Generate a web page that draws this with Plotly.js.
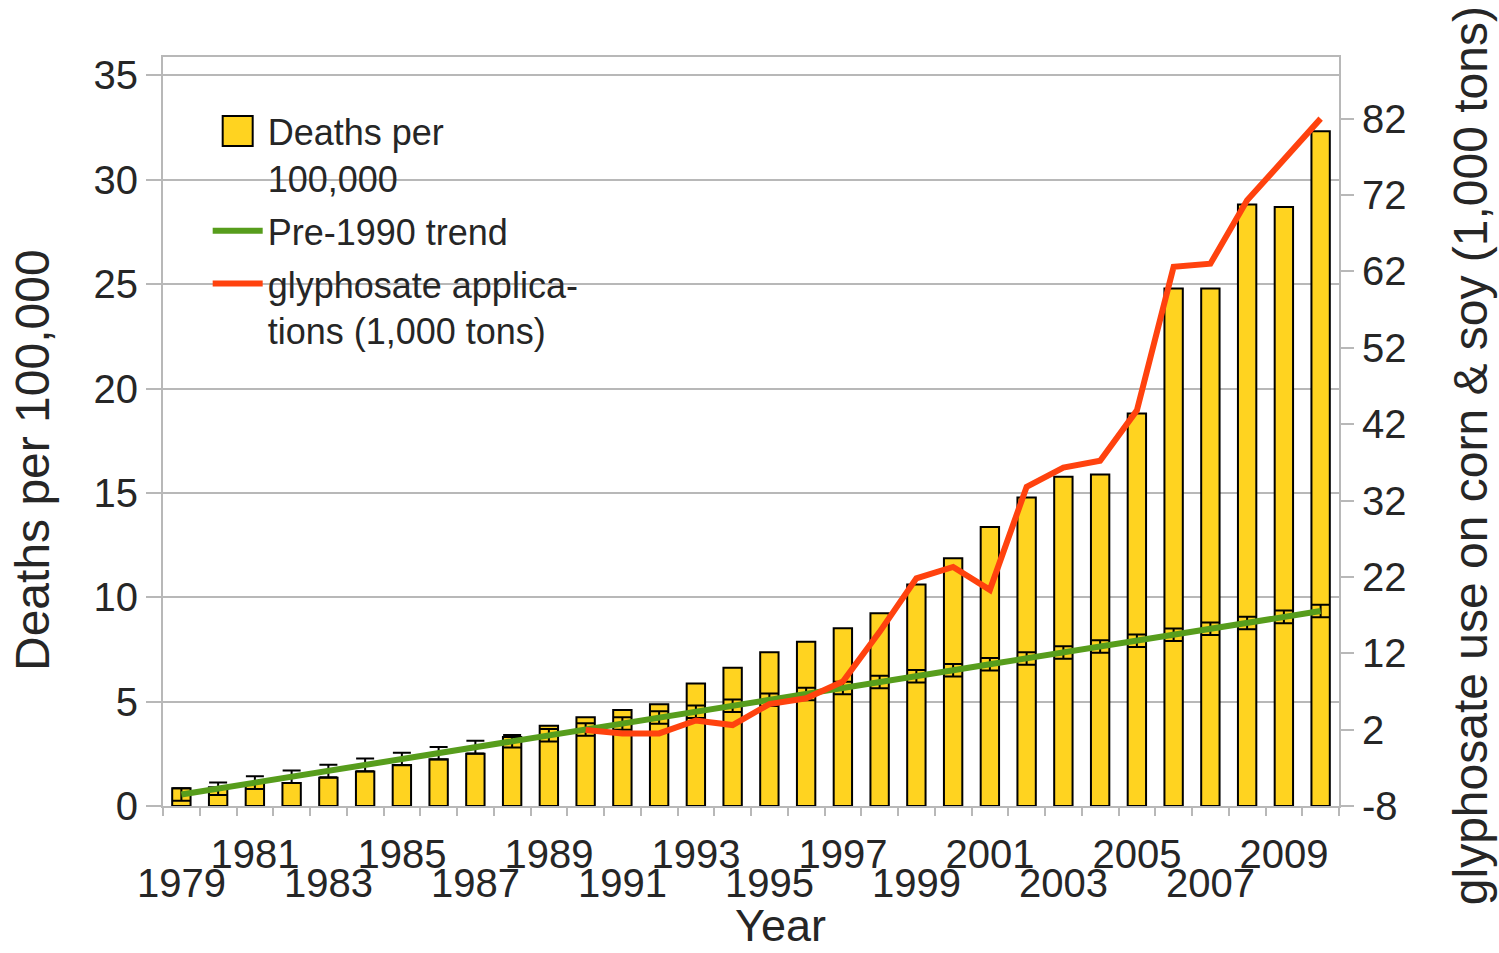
<!DOCTYPE html>
<html>
<head>
<meta charset="utf-8">
<script src="https://cdn.plot.ly/plotly-3.0.1.min.js"></script>
<style>
  html, body { margin: 0; padding: 0; background: #ffffff; }
  #chart { width: 1499px; height: 953px; }
</style>
</head>
<body>
<div id="chart"></div>
<script>
// ---- data ----
const years = [1979, 1980, 1981, 1982, 1983, 1984, 1985, 1986, 1987, 1988,
               1989, 1990, 1991, 1992, 1993, 1994, 1995, 1996, 1997, 1998,
               1999, 2000, 2001, 2002, 2003, 2004, 2005, 2006, 2007, 2008,
               2009, 2010];

const deaths = [0.85, 0.9, 1.1, 1.1, 1.35, 1.65, 1.97, 2.24, 2.5, 3.3,
                3.85, 4.25, 4.60, 4.87, 5.87, 6.62, 7.36, 7.87, 8.51, 9.23,
                10.61, 11.87, 13.37, 14.78, 15.77, 15.88, 18.80, 24.79, 24.79, 28.82,
                28.69, 32.32];

const trend = [0.55, 0.83, 1.12, 1.40, 1.68, 1.97, 2.25, 2.53, 2.82, 3.10,
               3.39, 3.67, 3.95, 4.24, 4.52, 4.80, 5.09, 5.37, 5.65, 5.94,
               6.22, 6.50, 6.79, 7.07, 7.35, 7.64, 7.92, 8.20, 8.49, 8.77,
               9.06, 9.34];

const glyYears = [1990, 1991, 1992, 1993, 1994, 1995, 1996, 1997, 1998, 1999,
                  2000, 2001, 2002, 2003, 2004, 2005, 2006, 2007, 2008, 2009,
                  2010];
const glyphosate = [1.95, 1.5, 1.5, 3.2, 2.6, 5.35, 6.1, 8.3, 14.8, 21.8,
                    23.3, 20.3, 33.8, 36.3, 37.2, 43.8, 62.6, 63.0, 71.3, 76.6,
                    82.0];

// year labels: upper row and lower row (staggered)
const xTicksUpper = [1981, 1985, 1989, 1993, 1997, 2001, 2005, 2009];
const xTicksLower = [1979, 1983, 1987, 1991, 1995, 1999, 2003, 2007];

const leftTicks = [0, 5, 10, 15, 20, 25, 30, 35];
const rightTicks = [-8, 2, 12, 22, 32, 42, 52, 62, 72, 82];
const rightTickText = ['-8', '2', '12', '22', '32', '42', '52', '62', '72', '82'];

const titleX = 'Year';
const titleY = 'Deaths per 100,000';
const titleY2 = 'glyphosate use on corn &amp; soy (1,000 tons)';

// ---- styling ----
const FONT = 'Liberation Sans, Arial, sans-serif';
const TXT = '#262626';
const GRID = '#b8b8b8';

const traces = [
  {
    type: 'bar',
    name: 'Deaths per<br>100,000',
    legendgroup: 'a',
    x: years,
    y: deaths,
    width: 0.5,
    marker: { color: '#ffd320', line: { color: '#000000', width: 2 } },
    hoverinfo: 'x+y'
  },
  {
    type: 'scatter',
    mode: 'lines',
    name: 'Pre-1990 trend',
    legendgroup: 'b',
    x: years,
    y: trend,
    line: { color: '#579d1c', width: 6 },
    error_y: { type: 'constant', value: 0.3, color: '#000000', thickness: 2, width: 9 }
  },
  {
    type: 'scatter',
    mode: 'lines',
    name: 'glyphosate applica-<br>tions (1,000 tons)',
    legendgroup: 'c',
    x: glyYears,
    y: glyphosate,
    xaxis: 'x2',
    yaxis: 'y2',
    line: { color: '#ff420e', width: 6 }
  }
];

const layout = {
  width: 1499,
  height: 953,
  margin: { l: 163, r: 160, t: 57, b: 147, pad: 0 },
  paper_bgcolor: '#ffffff',
  plot_bgcolor: '#ffffff',
  font: { family: FONT, color: TXT, size: 40 },
  showlegend: true,
  legend: {
    x: 0.038, y: 0.941, xanchor: 'left', yanchor: 'top',
    bgcolor: 'rgba(255,255,255,0)',
    font: { family: FONT, size: 36, color: TXT },
    valign: 'top',
    itemwidth: 50,
    tracegroupgap: 3
  },
  xaxis: {
    range: [1978.5, 2010.5],
    tickmode: 'array',
    tickvals: xTicksUpper,
    tickangle: 0,
    ticks: '',
    ticklabelstandoff: 12,
    tickfont: { family: FONT, size: 40, color: TXT },
    showgrid: false,
    zeroline: false,
    showline: true,
    linecolor: GRID,
    linewidth: 2,
    mirror: true,
    minor: { tickmode: 'linear', tick0: 1978.5, dtick: 1, ticks: 'outside', ticklen: 8, tickwidth: 2, tickcolor: GRID, showgrid: false },
    fixedrange: true
  },
  xaxis2: {
    overlaying: 'x',
    anchor: 'y2',
    side: 'bottom',
    range: [1978.5, 2010.5],
    tickmode: 'array',
    tickvals: xTicksLower,
    tickangle: 0,
    ticks: '',
    ticklabelstandoff: 50,
    tickfont: { family: FONT, size: 40, color: TXT },
    showgrid: false,
    zeroline: false,
    showline: false,
    fixedrange: true
  },
  yaxis: {
    range: [0, 35.88],
    tickmode: 'array',
    tickvals: leftTicks,
    ticks: 'outside',
    ticklen: 15,
    tickwidth: 2,
    tickcolor: GRID,
    tickfont: { family: FONT, size: 40, color: TXT },
    showgrid: true,
    gridcolor: GRID,
    gridwidth: 2,
    zeroline: false,
    showline: true,
    linecolor: GRID,
    linewidth: 2,
    fixedrange: true
  },
  yaxis2: {
    overlaying: 'y',
    anchor: 'x2',
    side: 'right',
    range: [-8, 90.07],
    tickmode: 'array',
    tickvals: rightTicks,
    ticktext: rightTickText,
    ticks: 'outside',
    ticklen: 13,
    tickwidth: 2,
    tickcolor: GRID,
    tickfont: { family: FONT, size: 40, color: TXT },
    showgrid: false,
    zeroline: false,
    showline: true,
    linecolor: GRID,
    linewidth: 2,
    fixedrange: true
  },
  annotations: [
    { text: titleX, xref: 'paper', yref: 'paper', x: 0.5247, y: -0.1955, xanchor: 'center', yanchor: 'bottom',
      showarrow: false, borderpad: 0, font: { family: FONT, size: 45, color: TXT } },
    { text: titleY, xref: 'paper', yref: 'paper', x: -0.1105, y: 0.462, xanchor: 'center', yanchor: 'middle',
      textangle: -90, showarrow: false, font: { family: FONT, size: 48, color: TXT } },
    { text: titleY2, xref: 'paper', yref: 'paper', x: 1.1114, y: 0.467, xanchor: 'center', yanchor: 'middle',
      textangle: -90, showarrow: false, font: { family: FONT, size: 48, color: TXT } }
  ],
  bargap: 0.5
};

function bigSwatch(gd) {
  gd.querySelectorAll('.legend .legendpoints path').forEach(function (p) {
    const d = p.getAttribute('d') || '';
    if (d.indexOf('H-6V-6') !== -1 || p.classList.contains('legendbar')) {
      p.setAttribute('d', 'M15,15H-15V-15H15Z');
    }
  });
}

Plotly.newPlot('chart', traces, layout, { displayModeBar: false, staticPlot: true }).then(function (gd) {
  bigSwatch(gd);
  setTimeout(function () { bigSwatch(gd); }, 50);
});
</script>
</body>
</html>
